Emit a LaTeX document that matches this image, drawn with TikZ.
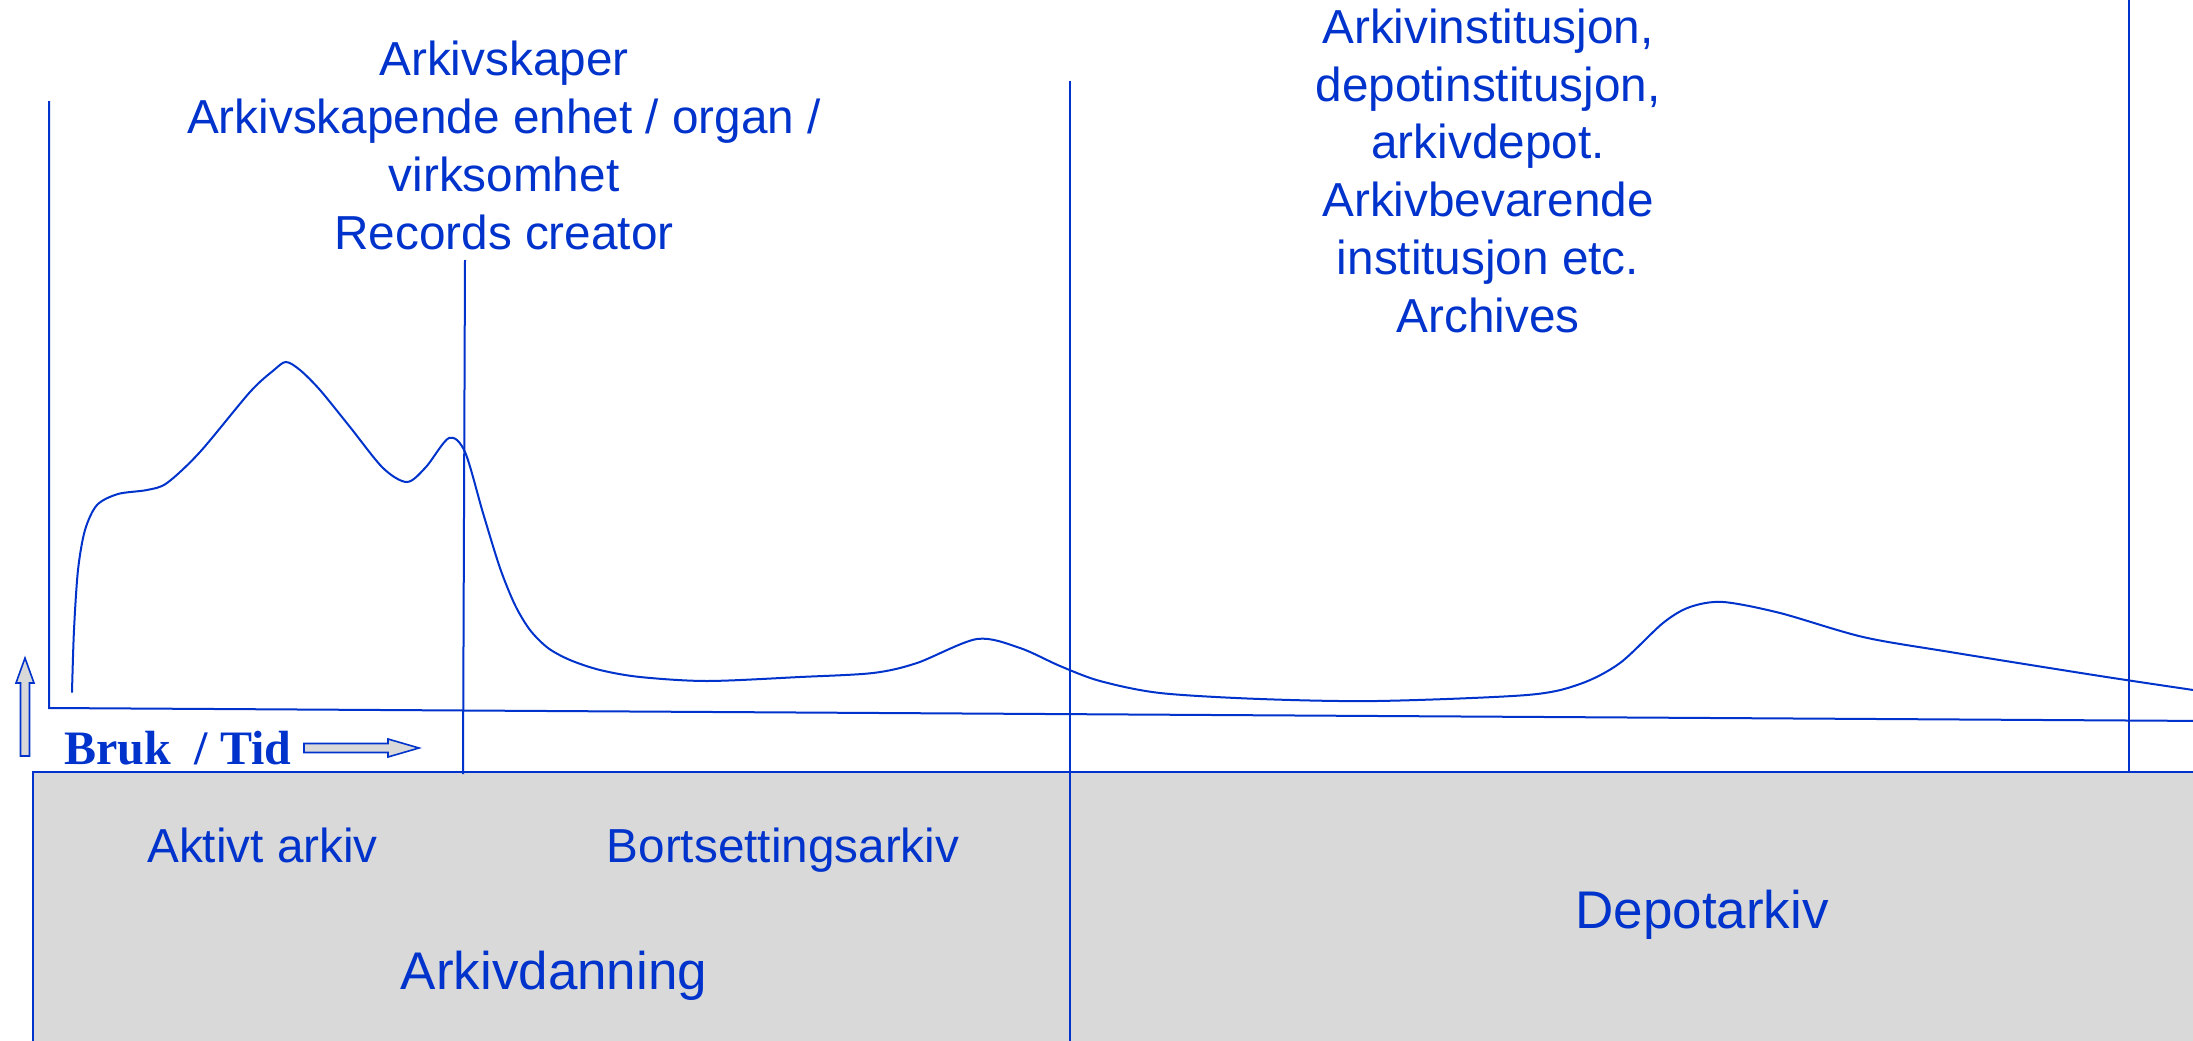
\documentclass[tikz,border=0pt]{standalone}
\usepackage{fontspec}
\setmainfont{Liberation Sans}
\newfontfamily\serifbold{Liberation Serif}[BoldFont={Liberation Serif Bold}]
\definecolor{ablue}{RGB}{0,51,204}
\definecolor{agray}{RGB}{217,217,217}
\begin{document}
\begin{tikzpicture}[x=1pt,y=-1pt,
  bline/.style={draw=ablue, line width=2pt},
  lbl/.style={text=ablue, inner sep=0pt, outer sep=0pt, anchor=base, align=center,
    font=\fontsize{47.7}{57.7}\selectfont},
  biglbl/.style={text=ablue, inner sep=0pt, outer sep=0pt, anchor=base,
    font=\fontsize{53}{64}\selectfont},
  arrowshape/.style={draw=ablue, line width=1.6pt, fill=agray, line join=miter}]
\clip (0,0) rectangle (2193,1041);
\fill[white] (0,0) rectangle (2193,1041);

% lower gray band
\path[bline, fill=agray] (33,1060) -- (33,772) -- (2210,772) -- (2210,1060) -- cycle;

% vertical dividers
\coordinate (rcTop) at (465,260);
\coordinate (rcBot) at (463,774);
\coordinate (midTop) at (1070,81);
\coordinate (midBot) at (1070,1045);
\coordinate (rTop) at (2129,-5);
\coordinate (rBot) at (2129,771);
\draw[bline] (rcTop) -- (rcBot);
\draw[bline] (midTop) -- (midBot);
\draw[bline] (rTop) -- (rBot);

% axes
\coordinate (axTop) at (49,101);
\coordinate (axOrig) at (49,708);
\coordinate (axEnd) at (2210,721);
\draw[bline, line join=miter] (axTop) -- (axOrig) -- (axEnd);

% usage curve
\draw[bline, line cap=round] plot[smooth, tension=0.5] coordinates {
 (72,692) (74,630) (78,570) (85,530) (97,505) (118,494) (147,490) (167,483)
 (200,452) (250,392) (274,370) (286,362) (300,370) (320,390) (350,427) (383,468)
 (407,482) (426,467) (449,438) (465,452) (483,513) (500,568) (515,605) (530,630)
 (548,648) (570,660) (600,670) (640,677) (707,681) (800,677) (873,673) (917,663)
 (977,639) (1020,648) (1060,666) (1100,681) (1160,693) (1260,699) (1377,701)
 (1527,695) (1580,684) (1620,663) (1663,623) (1690,607) (1723,602) (1780,613)
 (1863,637) (1950,652) (2100,676) (2200,691)};

% arrows
\path[arrowshape] (20.5,756) -- (29.5,756) -- (29.5,683) -- (34,683) -- (25,658)
  -- (16,683) -- (20.5,683) -- cycle;
\path[arrowshape] (304,743.5) -- (388,743.5) -- (388,739) -- (419,748) -- (388,757)
  -- (388,752.5) -- (304,752.5) -- cycle;

% axis label
\node[text=ablue, inner sep=0pt, anchor=base west,
  font=\serifbold\bfseries\fontsize{48}{56}\selectfont] (bruk) at (64,764) {Bruk\ \ / Tid};

% top labels (anchored at the baseline of the last line)
\node[lbl] (creator) at (504,249)
  {Arkivskaper\\Arkivskapende enhet / organ /\\virksomhet\\Records creator};
\node[lbl] (archives) at (1488,332)
  {Arkivinstitusjon,\\depotinstitusjon,\\arkivdepot.\\Arkivbevarende\\institusjon etc.\\Archives};

% band labels
\node[lbl] (aktivt) at (262.5,862) {Aktivt arkiv};
\node[lbl] (bort) at (783,862) {Bortsettingsarkiv};
\node[biglbl] (danning) at (554,989) {Arkivdanning};
\node[biglbl] (depot) at (1702,928) {Depotarkiv};
\end{tikzpicture}
\end{document}
